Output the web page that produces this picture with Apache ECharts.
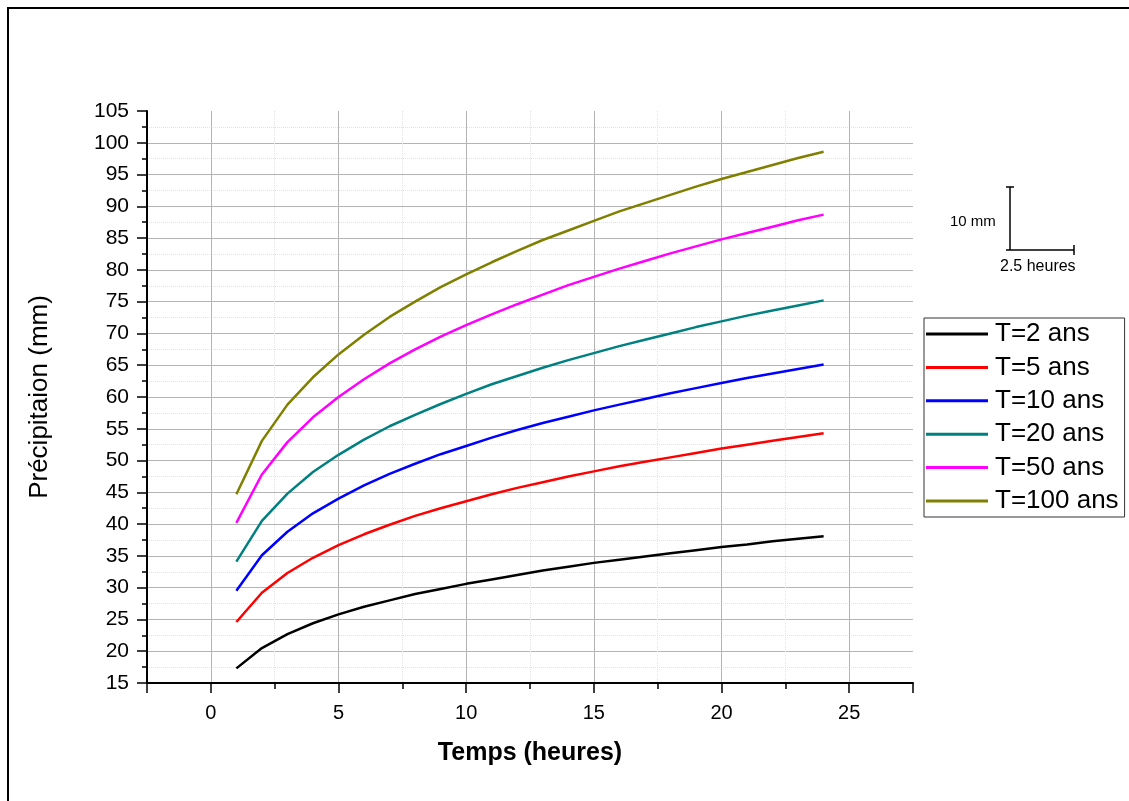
<!DOCTYPE html>
<html>
<head>
<meta charset="utf-8">
<script src="https://cdn.jsdelivr.net/npm/echarts@6/dist/echarts.min.js"></script>
<style>
html,body{margin:0;padding:0;background:#fff;}
#chart{width:1129px;height:801px;}
</style>
</head>
<body>
<div id="chart"></div>
<script>
// ---- data ----
const hours = [1,2,3,4,5,6,7,8,9,10,11,12,13,14,15,16,17,18,19,20,21,22,23,24];
const seriesNames = ['T=2 ans','T=5 ans','T=10 ans','T=20 ans','T=50 ans','T=100 ans'];
const T2   = [17.3,20.5,22.7,24.4,25.8,27.0,28.0,29.0,29.8,30.6,31.3,32.0,32.7,33.3,33.9,34.4,34.9,35.4,35.9,36.4,36.8,37.3,37.7,38.1];
const T5   = [24.6,29.2,32.3,34.7,36.7,38.4,39.9,41.3,42.5,43.6,44.7,45.7,46.6,47.5,48.3,49.1,49.8,50.5,51.2,51.9,52.5,53.1,53.7,54.3];
const T10  = [29.5,35.1,38.8,41.7,44.0,46.1,47.9,49.5,51.0,52.3,53.6,54.8,55.9,56.9,57.9,58.8,59.7,60.6,61.4,62.2,63.0,63.7,64.4,65.1];
const T20  = [34.1,40.5,44.8,48.2,50.9,53.3,55.4,57.2,58.9,60.5,62.0,63.3,64.6,65.8,66.9,68.0,69.0,70.0,71.0,71.9,72.8,73.6,74.4,75.2];
const T50  = [40.2,47.8,52.9,56.8,60.0,62.8,65.3,67.5,69.5,71.3,73.0,74.6,76.1,77.6,78.9,80.2,81.4,82.6,83.7,84.8,85.8,86.8,87.8,88.7];
const T100 = [44.7,53.1,58.8,63.1,66.7,69.8,72.6,75.0,77.3,79.3,81.2,83.0,84.7,86.2,87.7,89.2,90.5,91.8,93.1,94.3,95.4,96.5,97.6,98.6];
const allValues = [T2,T5,T10,T20,T50,T100];
const colors = ['#000000','#ff0000','#0000ff','#008080','#ff00ff','#808000'];
const xTitle = 'Temps (heures)';
const yTitle = 'Précipitaion (mm)';

const FONT = 'Liberation Sans, Arial, sans-serif';
const chart = echarts.init(document.getElementById('chart'), null, {renderer:'canvas'});

const series = seriesNames.map((name,i) => ({
  name: name,
  type: 'line',
  data: hours.map((h,j) => [h, allValues[i][j]]),
  symbol: 'none',
  smooth: false,
  lineStyle: {color: colors[i], width: 2.5},
  itemStyle: {color: colors[i]},
  z: 5
}));

chart.setOption({
  animation: false,
  backgroundColor: '#ffffff',
  grid: {left: 147, right: 216, top: 111, bottom: 118, containLabel: false},
  xAxis: {
    type: 'value',
    min: -2.5, max: 27.5, splitNumber: 6,
    name: xTitle, nameLocation: 'middle', nameGap: 58,
    nameTextStyle: {fontFamily: FONT, fontSize: 25, fontWeight: 'bold', color: '#000'},
    axisLine: {show: true, onZero: false, lineStyle: {color: '#000', width: 2}},
    axisTick: {show: true, inside: false, length: 10, lineStyle: {color: '#000', width: 1.5}},
    minorTick: {show: true, splitNumber: 2, length: 6, lineStyle: {color: '#000', width: 1.5}},
    axisLabel: {fontFamily: FONT, fontSize: 20, color: '#000', margin: 20,
      formatter: v => (Math.abs(v % 5) < 1e-9 ? String(v) : '')},
    splitLine: {show: true, showMinLine: false, showMaxLine: false, lineStyle: {color: '#b4b4b4', width: 1}},
    minorSplitLine: {show: true, lineStyle: {color: '#e2e2e2', width: 1, type: 'dotted'}}
  },
  yAxis: {
    type: 'value',
    min: 15, max: 105, interval: 5,
    name: yTitle, nameLocation: 'middle', nameGap: 94, nameRotate: 90,
    nameTextStyle: {fontFamily: FONT, fontSize: 26, color: '#000'},
    axisLine: {show: true, onZero: false, lineStyle: {color: '#000', width: 2}},
    axisTick: {show: true, inside: false, length: 10, lineStyle: {color: '#000', width: 1.5}},
    minorTick: {show: true, splitNumber: 2, length: 5, lineStyle: {color: '#000', width: 1.5}},
    axisLabel: {fontFamily: FONT, fontSize: 21, color: '#000', margin: 18},
    splitLine: {show: true, showMinLine: false, showMaxLine: false, lineStyle: {color: '#b4b4b4', width: 1}},
    minorSplitLine: {show: true, lineStyle: {color: '#e2e2e2', width: 1, type: 'dotted'}}
  },
  legend: {
    show: true, orient: 'vertical', left: 924, top: 318,
    padding: [3, 6, 3, 2], itemGap: 7.4,
    itemWidth: 62, itemHeight: 14,
    borderColor: '#333', borderWidth: 1, backgroundColor: '#fff',
    textStyle: {fontFamily: FONT, fontSize: 26, lineHeight: 26, color: '#000', padding: [0,0,0,2]},
    data: seriesNames.map(n => ({name: n, icon: 'path://M0,0 L62,0 L62,3 L0,3 Z'}))
  },
  graphic: [
    {type: 'rect', shape: {x: 8, y: 8, width: 1135, height: 805}, style: {fill: 'none', stroke: '#000', lineWidth: 2}, silent: true},
    // scale bar
    {type: 'line', shape: {x1: 1010, y1: 187, x2: 1010, y2: 250}, style: {stroke: '#000', lineWidth: 1.5}},
    {type: 'line', shape: {x1: 1006, y1: 187, x2: 1014, y2: 187}, style: {stroke: '#000', lineWidth: 1.5}},
    {type: 'line', shape: {x1: 1006, y1: 250, x2: 1074, y2: 250}, style: {stroke: '#000', lineWidth: 1.5}},
    {type: 'line', shape: {x1: 1074, y1: 245, x2: 1074, y2: 255}, style: {stroke: '#000', lineWidth: 1.5}},
    {type: 'text', left: 950, top: 214, style: {text: '10 mm', font: '15px ' + FONT, fill: '#000'}},
    {type: 'text', left: 1000, top: 259, style: {text: '2.5 heures', font: '16px ' + FONT, fill: '#000'}}
  ],
  series: series
});
</script>
</body>
</html>
